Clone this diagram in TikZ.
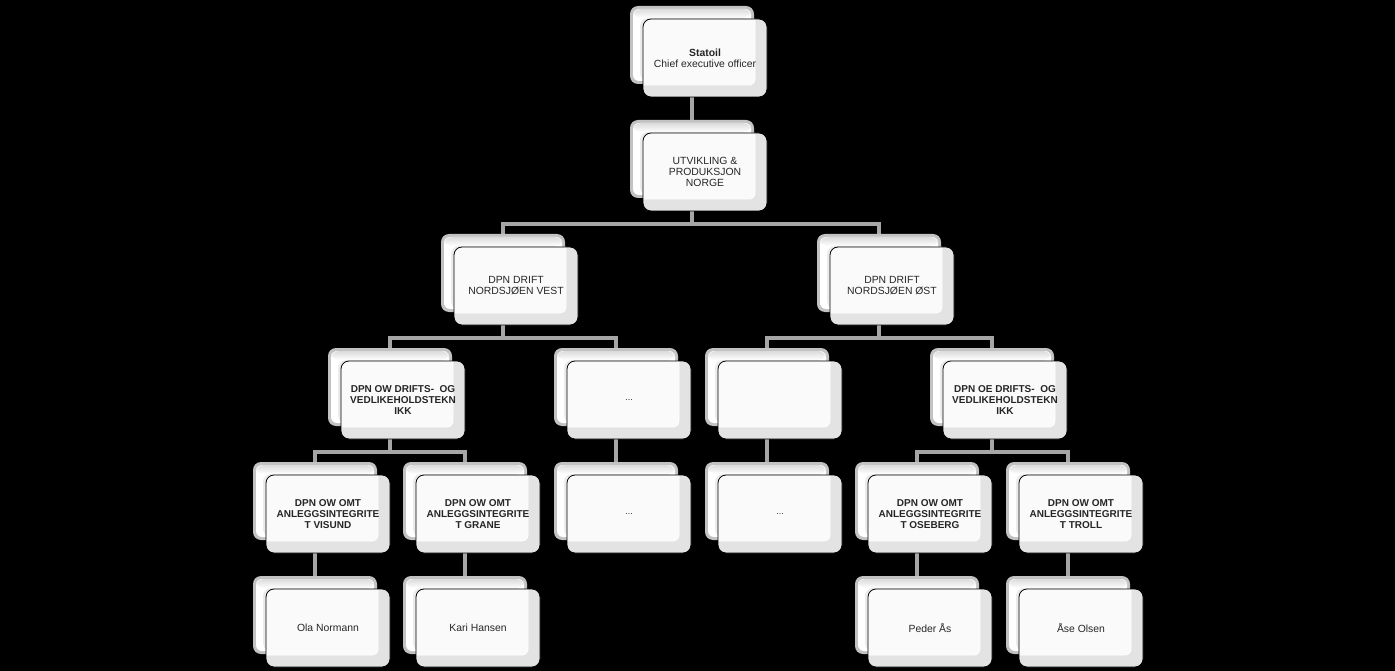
\documentclass[tikz,border=0pt]{standalone}
\usepackage{fontspec}
\setmainfont{Liberation Sans}
\pgfdeclarelayer{bg}
\pgfsetlayers{bg,main}
\tikzset{
  boxbase/.style={rectangle, rounded corners=8pt, minimum width=124pt, minimum height=78pt, inner sep=0pt},
  backbox/.style={boxbase, fill=black!24,
    path picture={
      \fill[white, rounded corners=6pt] ([shift={(3pt,-3pt)}]path picture bounding box.north west) rectangle ([shift={(-3pt,3pt)}]path picture bounding box.south east);
      \shade[top color=black!14, bottom color=white] ([shift={(3pt,-3pt)}]path picture bounding box.north west) rectangle ([shift={(-3pt,-12pt)}]path picture bounding box.north east);
      \fill[black!8] ([shift={(10pt,-12pt)}]path picture bounding box.north west) rectangle ([shift={(-3pt,3pt)}]path picture bounding box.south east);
    }},
  frontbox/.style={boxbase, draw=black, line width=0.8pt, fill=black!11,
    align=center, text=black!85, font=\fontsize{10.4}{11}\selectfont,
    path picture={
      \fill[black!2, rounded corners=6pt] ([shift={(-10pt,10pt)}]path picture bounding box.north west) rectangle ([shift={(-12pt,12pt)}]path picture bounding box.south east);
      \draw[white, line width=0.8pt, rounded corners=6pt] ([shift={(-12pt,10pt)}]path picture bounding box.north east) -- ([shift={(-12pt,12pt)}]path picture bounding box.south east) -- ([shift={(-10pt,12pt)}]path picture bounding box.south west);
    }},
  boldtext/.style={font=\fontsize{10}{11}\selectfont\bfseries},
  dotstext/.style={font=\fontsize{9}{10}\selectfont},
  conn/.style={draw=black!35, line width=3.5pt},
  glint/.style={draw=black!4, line width=2.5pt}
}
\newcommand{\orgbox}[5][]{%
  \node[backbox] (#2-b) at (#3-13,#4-13) {};
  \node[frontbox,#1] (#2) at (#3,#4) {#5};
}
\newcommand{\linkone}[2]{%
  \draw[conn] (#1-b.center) -- (#2-b.north);
  \draw[glint] (#1-b.center |- #1.south) ++(0,-1.5) -- ++(0,-10);
}
\newcommand{\linktwo}[3]{%
  \draw[conn] (#1-b.center) |- ([yshift=10pt]#2-b.north) -- (#2-b.north);
  \draw[conn] (#1-b.center) |- ([yshift=10pt]#3-b.north) -- (#3-b.north);
  \draw[glint] (#1-b.center |- #1.south) ++(0,-1.5) -- ++(0,-10);
}
\begin{document}
\begin{tikzpicture}[x=1pt,y=-1pt]
\begin{pgfonlayer}{bg}
  \fill[black] (0,0) rectangle (1395,671);
\end{pgfonlayer}
\useasboundingbox (0,0) rectangle (1395,671);

\orgbox{statoil}{705}{58}{\textbf{Statoil}\\Chief executive officer}
\orgbox{utv}{705}{172}{UTVIKLING \&\\PRODUKSJON\\NORGE}
\orgbox{vest}{516}{286}{DPN DRIFT\\NORDSJØEN VEST}
\orgbox{ost}{892}{286}{DPN DRIFT\\NORDSJØEN ØST}
\orgbox[boldtext]{owd}{403}{400}{DPN OW DRIFTS-\ \ OG\\VEDLIKEHOLDSTEKN\\IKK}
\orgbox[dotstext]{dfa}{629}{400}{...}
\orgbox{blank}{780}{400}{}
\orgbox[boldtext]{oed}{1005}{400}{DPN OE DRIFTS-\ \ OG\\VEDLIKEHOLDSTEKN\\IKK}
\orgbox[boldtext]{visund}{328}{514}{DPN OW OMT\\ANLEGGSINTEGRITE\\T VISUND}
\orgbox[boldtext]{grane}{478}{514}{DPN OW OMT\\ANLEGGSINTEGRITE\\T GRANE}
\orgbox[dotstext]{dfb}{629}{514}{...}
\orgbox[dotstext]{dfc}{780}{514}{...}
\orgbox[boldtext]{oseberg}{930}{514}{DPN OW OMT\\ANLEGGSINTEGRITE\\T OSEBERG}
\orgbox[boldtext]{troll}{1081}{514}{DPN OW OMT\\ANLEGGSINTEGRITE\\T TROLL}
\orgbox{ola}{328}{628}{Ola Normann}
\orgbox{kari}{478}{628}{Kari Hansen}
\orgbox{peder}{930}{628}{Peder Ås}
\orgbox{aase}{1081}{628}{Åse Olsen}

\begin{pgfonlayer}{bg}
  \linkone{statoil}{utv}
  \linktwo{utv}{vest}{ost}
  \linktwo{vest}{owd}{dfa}
  \linktwo{ost}{blank}{oed}
  \linktwo{owd}{visund}{grane}
  \linkone{dfa}{dfb}
  \linkone{blank}{dfc}
  \linktwo{oed}{oseberg}{troll}
  \linkone{visund}{ola}
  \linkone{grane}{kari}
  \linkone{oseberg}{peder}
  \linkone{troll}{aase}
\end{pgfonlayer}
\end{tikzpicture}
\end{document}
